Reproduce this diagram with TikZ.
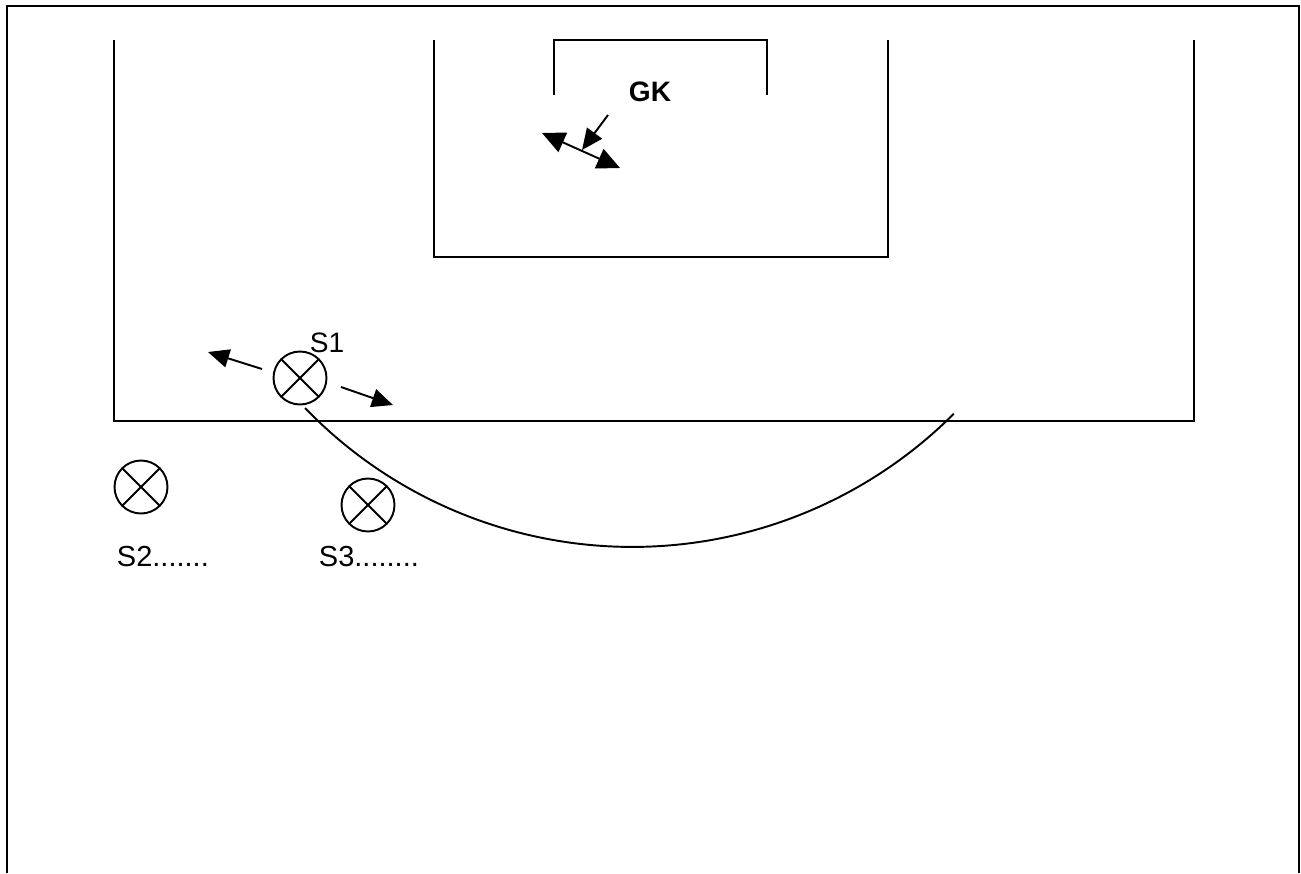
\documentclass[tikz,border=0pt]{standalone}
\usepackage{fontspec}
\setmainfont{Liberation Sans}
\usetikzlibrary{arrows.meta,positioning}

\begin{document}
\begin{tikzpicture}[x=0.02cm,y=-0.02cm,line width=1.1pt,>={Triangle[length=12pt,width=10.5pt]}]
                \tikzstyle{player}=[draw,circle,minimum size=1.06cm,inner sep=0pt,
                        path picture={\draw (path picture bounding box.north west) -- (path picture bounding box.south east)
                                (path picture bounding box.north east) -- (path picture bounding box.south west);}]
                \tikzstyle{tag}=[font=\fontsize{16.5}{19}\selectfont,inner sep=0pt,anchor=base west]
                \tikzstyle{run}=[->,shorten >=0pt]

                \useasboundingbox (0,0) rectangle (1301,873);

                % frame and pitch
                \draw[line width=1.3pt] (7,873) -- (7,6) -- (1299,6) -- (1299,873);
                \draw (114,40) -- (114,421) -- (1194,421) -- (1194,40);
                \draw (434,40) -- (434,257) -- (888,257) -- (888,40);
                \draw (554,95) -- (554,40) -- (767,40) -- (767,95);
                \draw (305,408) arc[start angle=224, end angle=315, radius=9.1cm];

                % keeper
                \node[font=\fontsize{16}{19}\selectfont\bfseries] (gk) at (650,92) {GK};
                \coordinate (gk-l) at (542,133);
                \coordinate (gk-r) at (620,168);
                \coordinate (gk-t) at (608,115);
                \coordinate (gk-h) at (582,150);
                \draw[<->,>={Triangle[length=13pt,width=12pt]}] (gk-l) -- (gk-r);
                \draw[run] (gk-t) -- (gk-h);

                % strikers
                \node[player] (s1) at (300,378) {};
                \node[font=\fontsize{16}{19}\selectfont] (s1-lab) at (327,343) {S1};
                \node[player] (s2) at (141,487) {};
                \node[tag] (s2-lab) at (116,566) {S2.......};
                \node[player] (s3) at (368,505) {};
                \node[tag] (s3-lab) at (318,566) {S3........};

                \coordinate (s1-lt) at (262,369);
                \coordinate (s1-lh) at (208,352);
                \coordinate (s1-rt) at (341,387);
                \coordinate (s1-rh) at (393,405);
                \draw[run] (s1-lt) -- (s1-lh);
                \draw[run] (s1-rt) -- (s1-rh);
\end{tikzpicture}
\end{document}
